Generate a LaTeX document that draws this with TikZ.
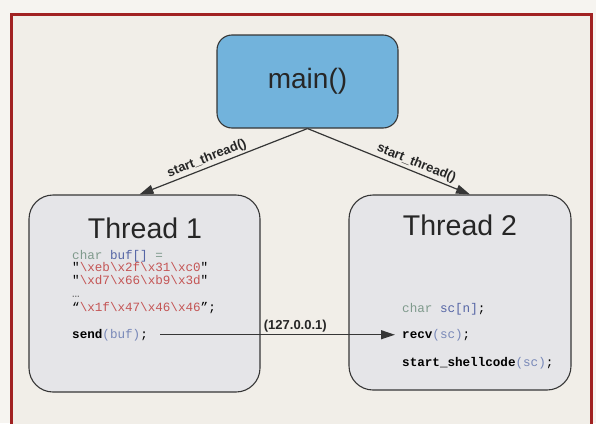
\documentclass[tikz,border=0pt]{standalone}
\usepackage{fontspec}
\setmainfont{Liberation Sans}
\setmonofont{Liberation Mono}
\usepackage{tikz}
\usetikzlibrary{arrows.meta, positioning}
\usepackage{xcolor}
\definecolor{FrameRed}{HTML}{A12222}
\definecolor{PaperBg}{HTML}{F1EEE8}
\definecolor{PageBg}{HTML}{F6F4F0}
\definecolor{MainBlue}{HTML}{72B3DC}
\definecolor{ThreadGrey}{HTML}{E5E5E8}
\definecolor{EdgeGrey}{HTML}{363636}
\definecolor{CodeType}{HTML}{7F9A8C}
\definecolor{CodeVar}{HTML}{5565A5}
\definecolor{CodeStr}{HTML}{C45555}
\definecolor{CodeArg}{HTML}{7888B8}
\newcommand{\bs}{\char`\\}
\tikzset{
    % Boxes
    mainbox/.style={
        rectangle,
        rounded corners=15pt,
        draw=EdgeGrey,
        line width=1.1pt,
        fill=MainBlue,
        minimum width=181pt,
        minimum height=93pt,
        text=black!85,
        font=\fontsize{28}{30}\selectfont
    },
    threadbox/.style={
        rectangle,
        rounded corners=24pt,
        draw=EdgeGrey,
        line width=1.1pt,
        fill=ThreadGrey
    },
    titletext/.style={
        anchor=base,
        inner sep=0pt,
        text=black!85,
        font=\fontsize{28.5}{30}\selectfont
    },
    codeline/.style={
        anchor=base west,
        inner sep=0pt,
        font=\fontsize{12.6}{13}\selectfont\ttfamily
    },
    % Arrows and their labels
    callarrow/.style={
        -{Triangle[length=14pt,width=9pt]},
        line width=1.2pt,
        EdgeGrey
    },
    edgelabel/.style={
        inner sep=2pt,
        text=black!85,
        font=\fontsize{13}{14}\selectfont\bfseries
    }
}

\begin{document}
\begin{tikzpicture}[x=1pt,y=-1pt]
    \useasboundingbox (0,0) rectangle (596,423);

    % Page and frame
    \fill[PageBg] (0,0) rectangle (596,423);
    \fill[PaperBg] (11,14) rectangle (591,440);
    \draw[FrameRed, line width=3pt] (11,440) -- (11,14) -- (591,14) -- (591,440);

    % Boxes
    \node[mainbox] (main) at (307.5,81.5) {main()};
    \node[threadbox, minimum width=231pt, minimum height=197pt] (thread1) at (144.5,293.5) {};
    \node[threadbox, minimum width=222pt, minimum height=195pt] (thread2) at (460,292.5) {};

    % Thread 1
    \node[titletext] (t1title) at (145,238) {Thread 1};
    \node[codeline] (buf) at (72,259) {{\color{CodeType}char} {\color{CodeVar}buf[]} {\color{CodeType}=}};
    \node[codeline] (bytesa) at (72,271) {"{\color{CodeStr}\bs xeb\bs x2f\bs x31\bs xc0}"};
    \node[codeline] (bytesb) at (72,284) {"{\color{CodeStr}\bs xd7\bs x66\bs xb9\bs x3d}"};
    \node[codeline] (dots) at (72,297) {{\color{black!60}…}};
    \node[codeline] (bytesc) at (72,311) {“{\color{CodeStr}\bs x1f\bs x47\bs x46\bs x46}”;};
    \node[codeline] (send) at (72,338) {{\bfseries send}{\color{CodeArg}(buf)};};

    % Thread 2
    \node[titletext] (t2title) at (460,235) {Thread 2};
    \node[codeline] (sc) at (402,312) {{\color{CodeType}char} {\color{CodeVar}sc[n]};};
    \node[codeline] (recv) at (402,338) {{\bfseries recv}{\color{CodeArg}(sc)};};
    \node[codeline] (shell) at (402,366) {{\bfseries start\_shellcode}{\color{CodeArg}(sc)};};

    % Calls
    \draw[callarrow] (main.south) -- node[edgelabel, sloped, above, pos=0.58] {start\_thread()} ([xshift=-5pt]thread1.north);
    \draw[callarrow] (main.south) -- node[edgelabel, sloped, above, pos=0.65] {start\_thread()} ([xshift=10pt]thread2.north);
    \draw[callarrow, shorten <=12pt, shorten >=7pt] (send.east) -- node[edgelabel, above, pos=0.58] {(127.0.0.1)} (recv.west);
\end{tikzpicture}
\end{document}
